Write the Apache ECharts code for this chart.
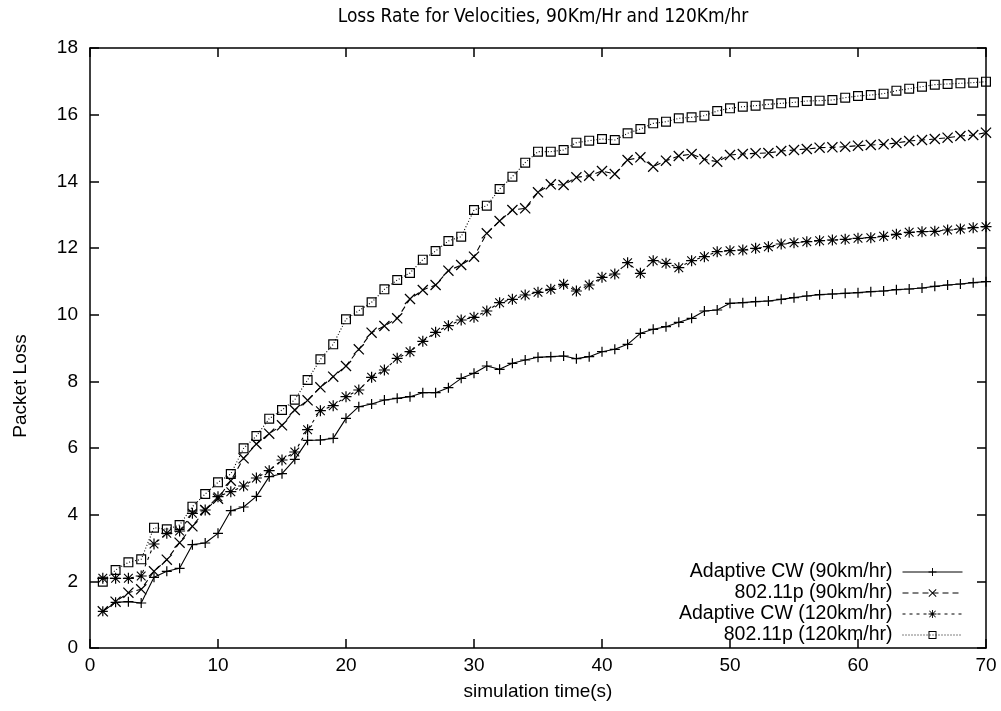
<!DOCTYPE html>
<html>
<head>
<meta charset="utf-8">
<title>Loss Rate for Velocities</title>
<script src="https://cdn.jsdelivr.net/npm/echarts@6/dist/echarts.min.js"></script>
<style>
  html, body { margin: 0; padding: 0; background: #fff; }
  #chart { width: 1001px; height: 711px; }
</style>
</head>
<body>
<div id="chart"></div>
<script>
// simulation time (s)
const timeSec = [1,2,3,4,5,6,7,8,9,10,11,12,13,14,15,16,17,18,19,20,
  21,22,23,24,25,26,27,28,29,30,31,32,33,34,35,36,37,38,39,40,
  41,42,43,44,45,46,47,48,49,50,51,52,53,54,55,56,57,58,59,60,
  61,62,63,64,65,66,67,68,69,70];

// packet loss per scheme and speed
const adaptive90 = [1.10,1.37,1.39,1.35,2.12,2.30,2.39,3.10,3.15,3.44,
  4.12,4.23,4.55,5.14,5.23,5.66,6.23,6.24,6.29,6.89,
  7.24,7.32,7.44,7.49,7.54,7.66,7.66,7.81,8.09,8.24,
  8.46,8.36,8.54,8.64,8.72,8.74,8.76,8.68,8.74,8.89,
  8.96,9.11,9.44,9.56,9.64,9.77,9.89,10.11,10.14,10.34,
  10.36,10.39,10.41,10.46,10.51,10.56,10.60,10.62,10.64,10.66,
  10.69,10.71,10.75,10.77,10.80,10.85,10.89,10.92,10.96,10.99];

const p80211_90 = [1.10,1.39,1.66,1.76,2.30,2.65,3.16,3.65,4.14,4.48,
  5.02,5.69,6.12,6.43,6.68,7.14,7.43,7.82,8.14,8.46,
  8.96,9.46,9.66,9.89,10.47,10.74,10.89,11.32,11.49,11.74,
  12.44,12.81,13.14,13.19,13.67,13.91,13.89,14.12,14.17,14.31,
  14.22,14.64,14.72,14.44,14.62,14.76,14.82,14.66,14.59,14.79,
  14.82,14.84,14.85,14.91,14.94,14.97,15.01,15.02,15.04,15.07,
  15.09,15.11,15.15,15.21,15.24,15.27,15.31,15.36,15.39,15.46];

const adaptive120 = [2.09,2.09,2.09,2.16,3.12,3.44,3.51,4.04,4.14,4.54,
  4.69,4.86,5.10,5.32,5.64,5.88,6.55,7.12,7.27,7.54,
  7.74,8.12,8.34,8.69,8.89,9.20,9.47,9.67,9.84,9.92,
  10.11,10.36,10.46,10.59,10.67,10.76,10.91,10.71,10.89,11.12,
  11.22,11.56,11.24,11.62,11.54,11.41,11.62,11.74,11.89,11.92,
  11.94,11.99,12.04,12.12,12.16,12.19,12.22,12.24,12.26,12.29,
  12.31,12.35,12.41,12.47,12.49,12.50,12.54,12.57,12.61,12.64];

const p80211_120 = [1.99,2.34,2.57,2.66,3.61,3.56,3.69,4.24,4.62,4.97,
  5.22,5.99,6.36,6.88,7.14,7.45,8.04,8.66,9.11,9.86,
  10.12,10.37,10.76,11.04,11.25,11.65,11.91,12.21,12.34,13.14,
  13.27,13.77,14.14,14.56,14.89,14.89,14.94,15.16,15.22,15.27,
  15.24,15.44,15.57,15.74,15.79,15.89,15.92,15.97,16.11,16.19,
  16.24,16.27,16.31,16.34,16.37,16.41,16.42,16.44,16.51,16.56,
  16.59,16.63,16.72,16.78,16.84,16.90,16.92,16.94,16.96,16.99];

const seriesNames = ['Adaptive CW (90km/hr)', '802.11p (90km/hr)',
  'Adaptive CW (120km/hr)', '802.11p (120km/hr)'];
const xTicks = [0, 10, 20, 30, 40, 50, 60, 70];
const yTicks = [0, 2, 4, 6, 8, 10, 12, 14, 16, 18];

// point glyphs drawn as filled outlines in a 10x10 box
const PLUS = 'path://M4.4,0h1.2v10h-1.2z M0,4.4h10v1.2h-10z';
const CROSS = 'path://M0,0.8L0.8,0L10,9.2L9.2,10Z M9.2,0L10,0.8L0.8,10L0,9.2Z';
const STAR = 'path://M4.45,0h1.1v10h-1.1z M0,4.45h10v1.1h-10z M0.7,1.4L1.4,0.7L9.3,8.6L8.6,9.3Z M8.6,0.7L9.3,1.4L1.4,9.3L0.7,8.6Z';
const SQUARE = 'path://M0,0H10V10H0Z M1.2,1.2V8.8H8.8V1.2Z';

const FONT = 'Liberation Sans, Arial, Helvetica, sans-serif';

function pairs(ys) {
  return timeSec.map((t, i) => [t, ys[i]]);
}

function makeSeries(name, ys, symbol, size, dash) {
  return {
    name: name,
    type: 'line',
    data: pairs(ys),
    symbol: symbol,
    symbolSize: size,
    showAllSymbol: true,
    animation: false,
    lineStyle: { color: '#000', width: 1.1, type: dash },
    itemStyle: { color: '#000', borderWidth: 0 },
    emphasis: { disabled: true },
    z: 3
  };
}

const chart = echarts.init(document.getElementById('chart'), null, { renderer: 'canvas' });

const axisLine = { show: true, onZero: false, lineStyle: { color: '#000', width: 1.5 } };
const axisTick = { show: true, inside: true, length: 9, lineStyle: { color: '#000', width: 1.5 } };
const labelStyle = { color: '#000', fontFamily: FONT, fontSize: 19 };

chart.setOption({
  backgroundColor: '#fff',
  animation: false,
  title: {
    text: 'Loss Rate for Velocities, 90Km/Hr and 120Km/hr',
    left: 538,
    top: 3,
    textAlign: 'center',
    textStyle: { color: '#000', fontFamily: 'Liberation Sans Narrow, DejaVu Sans Condensed, sans-serif', fontSize: 19, fontWeight: 'normal' }
  },
  // vertical axis caption
  graphic: [{
    type: 'text',
    x: 21,
    y: 386,
    rotation: Math.PI / 2,
    style: {
      text: 'Packet Loss',
      fill: '#000',
      font: '19px ' + FONT,
      textAlign: 'center',
      textVerticalAlign: 'middle'
    }
  }],
  grid: { left: 90, right: 15, top: 48, bottom: 63, containLabel: false },
  legend: {
    data: seriesNames,
    orient: 'vertical',
    right: 33,
    bottom: 61,
    align: 'right',
    itemWidth: 60,
    itemHeight: 10,
    itemGap: 1,
    selectedMode: false,
    lineStyle: { width: 1 },
    textStyle: { color: '#000', fontFamily: FONT, fontSize: 19.5, lineHeight: 20, padding: [0, 5, 0, 0] }
  },
  xAxis: [
    {
      type: 'value', min: xTicks[0], max: xTicks[xTicks.length - 1], interval: 10,
      axisLine: axisLine, axisTick: axisTick, splitLine: { show: false },
      axisLabel: Object.assign({ margin: 8 }, labelStyle),
      name: 'simulation time(s)', nameLocation: 'middle', nameGap: 34,
      nameTextStyle: labelStyle
    },
    {
      type: 'value', position: 'top', min: xTicks[0], max: xTicks[xTicks.length - 1], interval: 10,
      axisLine: axisLine, axisTick: axisTick, splitLine: { show: false },
      axisLabel: { show: false }
    }
  ],
  yAxis: [
    {
      type: 'value', min: yTicks[0], max: yTicks[yTicks.length - 1], interval: 2,
      axisLine: axisLine, axisTick: axisTick, splitLine: { show: false },
      axisLabel: Object.assign({ margin: 12 }, labelStyle)
    },
    {
      type: 'value', position: 'right', min: yTicks[0], max: yTicks[yTicks.length - 1], interval: 2,
      axisLine: axisLine, axisTick: axisTick, splitLine: { show: false },
      axisLabel: { show: false }
    }
  ],
  series: [
    makeSeries(seriesNames[0], adaptive90, PLUS, 10, 'solid'),
    makeSeries(seriesNames[1], p80211_90, CROSS, 11, [6, 4]),
    makeSeries(seriesNames[2], adaptive120, STAR, 11, [3, 4]),
    makeSeries(seriesNames[3], p80211_120, SQUARE, 10, [1, 2])
  ]
});
</script>
</body>
</html>
